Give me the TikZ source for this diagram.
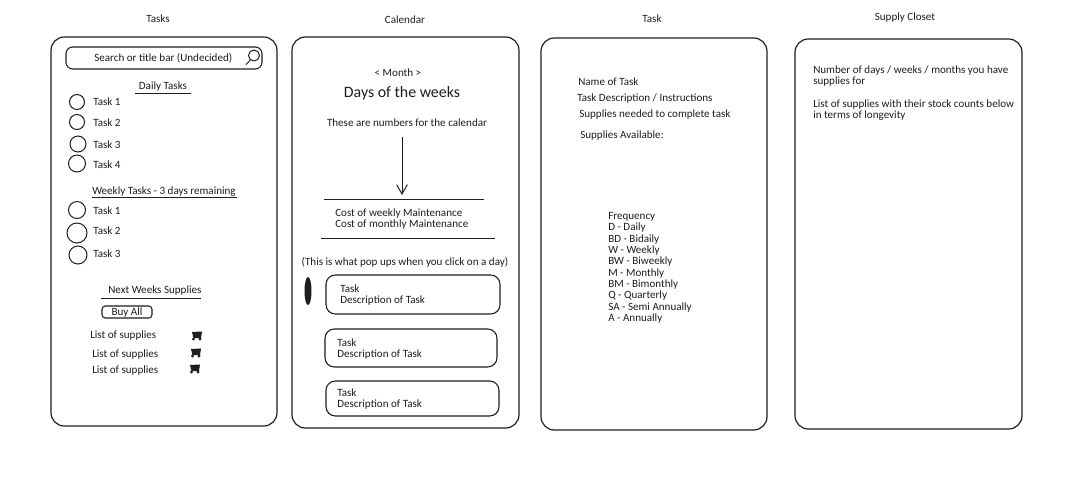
\documentclass[tikz,border=0pt]{standalone}
\usepackage{fontspec}
\setmainfont{Carlito}
\usetikzlibrary{arrows.meta}
\definecolor{ink}{HTML}{1E1E1E}
\tikzset{
  base/.style={x=0.75pt,y=-0.75pt},
  txt/.style={font=\fontsize{8.3pt}{8.5pt}\selectfont,text=ink,inner sep=0pt,anchor=west,align=left},
  ctr/.style={font=\fontsize{8.3pt}{8.5pt}\selectfont,text=ink,inner sep=0pt,anchor=center,align=center},
  phone/.style={draw=ink,line width=0.9pt,rounded corners=10pt},
  popup/.style={draw=ink,line width=0.8pt,rounded corners=7pt},
  smallbox/.style={draw=ink,line width=0.8pt,rounded corners=2.5pt},
  rule/.style={draw=ink,line width=0.75pt},
  ring/.style={draw=ink,line width=0.75pt},
  cartblob/.pic={
    \fill[ink] (-5,-4) -- (5,-4.5) -- (4,2) -- (-3.5,2) -- cycle;
    \fill[ink] (-3.5,3) circle (1.6) (3,3) circle (1.6);
  }
}
\begin{document}
\begin{tikzpicture}[base]
\useasboundingbox[fill=white] (0,0) rectangle (1090,480);
% titles
\node[ctr] (t1) at (158,19) {Tasks};
\node[ctr] (t2) at (405,20) {Calendar};
\node[ctr] (t3) at (652,19) {Task};
\node[ctr] (t4) at (905,18) {Supply Closet};
% phones
\draw[phone] (51,37) rectangle (277,426);
\draw[phone] (292,37) rectangle (519,428);
\draw[phone] (541,38) rectangle (767,430);
\draw[phone] (795,39) rectangle (1022,429);
% search
\draw[smallbox,rounded corners=5pt] (66,47) rectangle (262,69);
\node[txt] (search) at (94,58) {Search or title bar (Undecided)};
\draw[ring] (254,55.5) circle (5.5);
\draw[ring] (250.5,60) -- (246,64.5);
% daily
\node[ctr] (daily) at (163,87) {Daily Tasks};
\draw[rule] (135,93) -- (191,93);
\draw[ring] (77,102) circle (7.5);
\draw[ring] (77,122) circle (7.5);
\draw[ring] (78,144) circle (8);
\draw[ring] (77,163.5) circle (8.5);
\node[txt] (d1) at (93,102) {Task 1};
\node[txt] (d2) at (93,123) {Task 2};
\node[txt] (d3) at (93,145) {Task 3};
\node[txt] (d4) at (93,165) {Task 4};
% weekly
\node[txt] (weekly) at (92,192) {Weekly Tasks - 3 days remaining};
\draw[rule] (92,197) -- (237,197);
\draw[ring] (77,210) circle (8.5);
\draw[ring] (77,233) circle (10);
\draw[ring] (78,255) circle (9);
\node[txt] (w1) at (93,211) {Task 1};
\node[txt] (w2) at (93,231) {Task 2};
\node[txt] (w3) at (93,254) {Task 3};
% supplies
\node[txt] (next) at (108,291) {Next Weeks Supplies};
\draw[rule] (101,298) -- (201,298);
\draw[smallbox] (102,306) rectangle (152,318);
\node[ctr] (buy) at (127,312.5) {Buy All};
\node[txt] (l1) at (90,336) {List of supplies};
\node[txt] (l2) at (92,355) {List of supplies};
\node[txt] (l3) at (92,371) {List of supplies};
\pic at (197,336) {cartblob};
\pic at (196,353) {cartblob};
\pic at (195,369) {cartblob};
% calendar
\node[ctr] (month) at (398,73) {< Month >};
\node[ctr,font=\fontsize{11.9pt}{13pt}\selectfont] (days) at (402,93) {Days of the weeks};
\node[ctr] (numbers) at (407,123) {These are numbers for the calendar};
\coordinate (arrowtop) at (402,137);
\coordinate (arrowend) at (402,195);
\draw[draw=ink,line width=0.75pt,-{Straight Barb[length=7pt,width=8pt]}] (arrowtop) -- (arrowend);
\draw[rule] (324,199) -- (484,199);
\node[txt] (cw) at (335,214) {Cost of weekly Maintenance};
\node[txt] (cm) at (335,225) {Cost of monthly Maintenance};
\draw[rule] (321,238) -- (495,238);
\node[ctr] (pop) at (405,262) {(This is what pop ups when you click on a day)};
\fill[ink] (308,291) ellipse (3.5 and 14);
\draw[popup] (326,275) rectangle (500,314);
\draw[popup] (325,329) rectangle (497,367);
\draw[popup] (326,381) rectangle (499,416);
\node[txt] (p1) at (340,295) {Task\\Description of Task};
\node[txt] (p2) at (337,349) {Task\\Description of Task};
\node[txt] (p3) at (337,399) {Task\\Description of Task};
% task
\node[txt] (tn) at (578,82) {Name of Task};
\node[txt] (td) at (577,99) {Task Description / Instructions};
\node[txt] (ts) at (579,115) {Supplies needed to complete task};
\node[txt] (ta) at (580,136) {Supplies Available:};
\node[txt,anchor=north west] (freq) at (608,212) {Frequency\\D - Daily\\BD - Bidaily\\W - Weekly\\BW - Biweekly\\M - Monthly\\BM - Bimonthly\\Q - Quarterly\\SA - Semi Annually\\A - Annually};
% closet
\node[txt] (c1) at (813,76) {Number of days / weeks / months you have\\supplies for};
\node[txt] (c2) at (813,110) {List of supplies with their stock counts below\\in terms of longevity};
\end{tikzpicture}
\end{document}
